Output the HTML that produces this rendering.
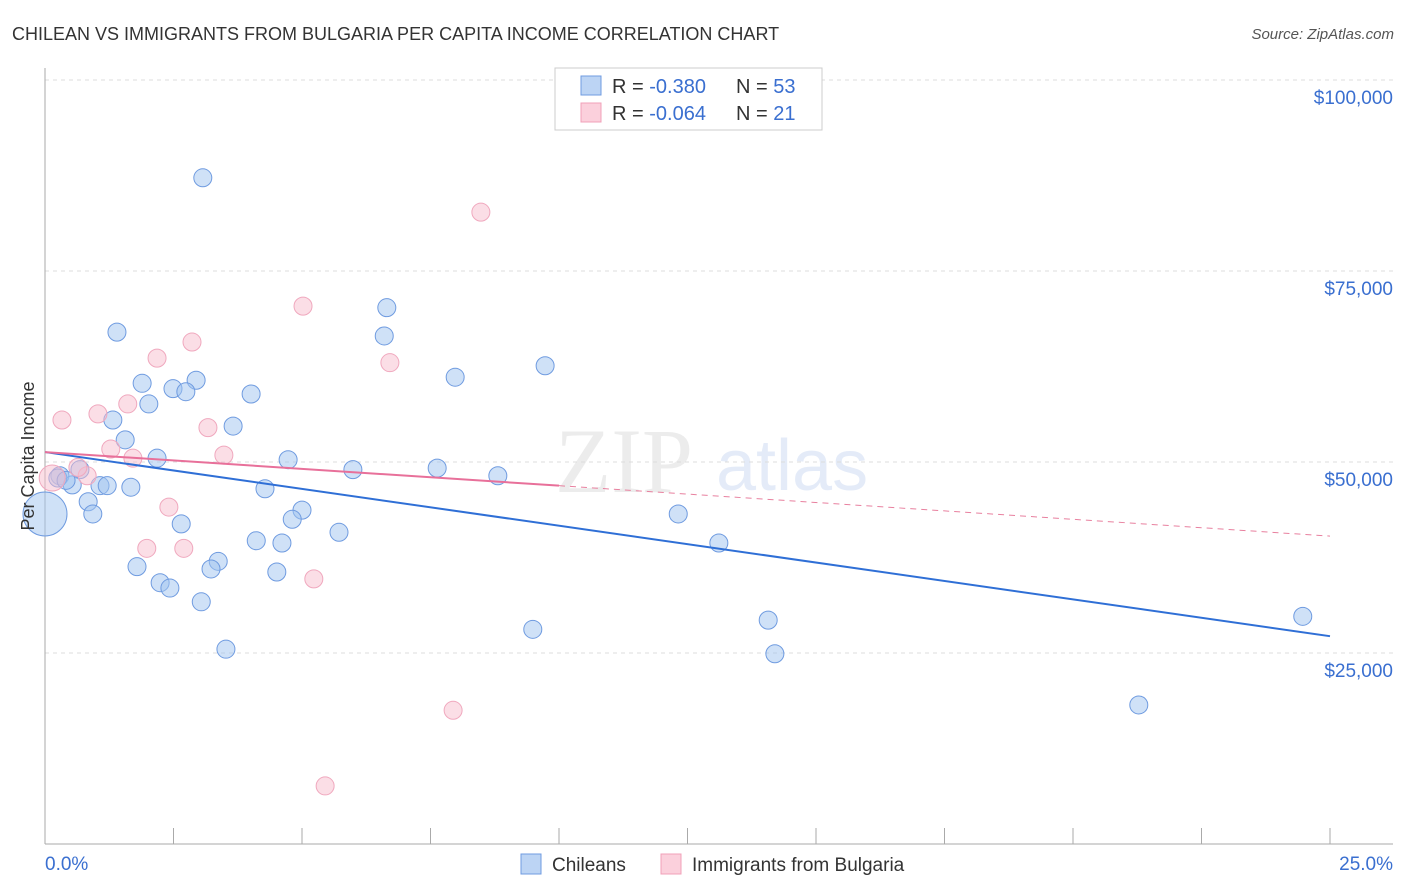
<!DOCTYPE html>
<html><head><meta charset="utf-8"><style>
body{margin:0;background:#fff;font-family:"Liberation Sans",sans-serif;}
svg{display:block}
</style></head><body>
<svg id="chart" width="1406" height="892">
<text x="12" y="40" font-size="18" fill="#333">CHILEAN VS IMMIGRANTS FROM BULGARIA PER CAPITA INCOME CORRELATION CHART</text>
<text x="1394" y="39" font-size="15" fill="#555" font-style="italic" text-anchor="end">Source: ZipAtlas.com</text>
<g opacity="0.13"><text x="555" y="492" font-size="92" font-family="Liberation Serif" fill="#777">ZIP</text><text x="716" y="490" font-size="72" fill="#3a6fd0">atlas</text></g>
<g id="grid"></g><g id="axes"></g><g id="points"></g><g id="trends"></g>
<text transform="translate(34,456) rotate(-90)" font-size="18" fill="#333" text-anchor="middle">Per Capita Income</text>
<g>
<rect x="555" y="68" width="267" height="62" fill="#fff" stroke="#ccc"/>
<rect x="581" y="76" width="20" height="19" fill="#bcd4f4" stroke="#6f9be0"/>
<rect x="581" y="103" width="20" height="19" fill="#fbd0dc" stroke="#f0a0b8"/>
<text x="612" y="93" font-size="20" fill="#333">R = <tspan fill="#3a6fd0">-0.380</tspan><tspan x="736">N = </tspan><tspan fill="#3a6fd0">53</tspan></text>
<text x="612" y="120" font-size="20" fill="#333">R = <tspan fill="#3a6fd0">-0.064</tspan><tspan x="736">N = </tspan><tspan fill="#3a6fd0"> 21</tspan></text>
</g>
<g>
<rect x="521" y="854" width="20" height="20" fill="#bcd4f4" stroke="#6f9be0"/>
<text x="552" y="871" font-size="19" fill="#333">Chileans</text>
<rect x="661" y="854" width="20" height="20" fill="#fbd0dc" stroke="#f0a0b8"/>
<text x="692" y="871" font-size="19" fill="#333">Immigrants from Bulgaria</text>
</g>
</svg>
<script>
const blueX=[3.07,1.40,6.65,6.60,9.73,7.98,1.89,2.94,2.49,2.74,4.01,2.02,1.32,3.66,1.56,2.18,4.73,7.63,5.99,8.81,0.68,0.29,0.53,1.07,1.21,1.67,4.28,0.84,0.93,5.00,4.81,2.65,12.32,5.72,4.11,4.61,13.11,3.37,1.79,3.23,4.51,2.24,2.43,3.04,9.49,14.07,24.47,3.52,14.20,21.28,0.0,0.25,0.41];
const blueY=[87.2,67.0,70.2,66.5,62.6,61.1,60.3,60.7,59.6,59.2,58.9,57.6,55.5,54.7,52.9,50.5,50.3,49.2,49.0,48.2,49.0,48.2,47.0,46.9,46.9,46.7,46.5,44.8,43.2,43.7,42.5,41.9,43.2,40.8,39.7,39.4,39.4,37.0,36.3,36.0,35.6,34.2,33.5,31.7,28.1,29.3,29.8,25.5,24.9,18.2,43.2,47.9,47.6];
const pinkX=[8.48,5.02,2.86,2.18,6.71,0.33,1.03,1.61,3.17,1.28,3.48,1.71,0.82,0.64,0.14,2.41,1.98,2.70,5.23,7.94,5.45];
const pinkY=[82.7,70.4,65.7,63.6,63.0,55.5,56.3,57.6,54.5,51.7,50.9,50.5,48.2,49.3,47.9,44.1,38.7,38.7,34.7,17.5,7.6];
const yTicks=[25,50,75,100];
const yTickLabels=["$25,000","$50,000","$75,000","$100,000"];
const xTickLabels=["0.0%","25.0%"];
const blueTrend=[51.3,27.2];
const pinkTrend=[51.3,40.3];
const pinkSolidEnd=10;
const NS="http://www.w3.org/2000/svg";
const X=v=>45+v/25*1285;
const Y=v=>844-v/100*764;
function mk(t,a,p){const e=document.createElementNS(NS,t);for(const k in a)e.setAttribute(k,a[k]);document.getElementById(p).appendChild(e);return e;}
yTicks.forEach((t,i)=>{
 const g=mk('line',{x1:45,x2:1393,y1:Y(t),y2:Y(t),stroke:'#ddd','stroke-dasharray':'4,4'},'grid');
 
 
 const l=mk('text',{x:1393,y:Y(t)+24,'font-size':19,fill:'#3a6fd0','text-anchor':'end'},'axes');
 l.textContent=yTickLabels[i];
 
 
});
mk('line',{x1:45,x2:45,y1:68,y2:844,stroke:'#aaa'},'axes');
mk('line',{x1:45,x2:1393,y1:844,y2:844,stroke:'#aaa'},'axes');
for(let i=1;i<=10;i++){const t=mk('line',{x1:X(i*2.5),x2:X(i*2.5),y1:828,y2:844,stroke:'#aaa'},'axes');
 
 }
[[0,'start',45],[1,'end',1393]].forEach(([i,a,x])=>{const l=mk('text',{x:x,y:870,'font-size':19,fill:'#3a6fd0','text-anchor':a},'axes');l.textContent=xTickLabels[i];
 
 });
blueX.forEach((x,i)=>{const r=(x===0)?22:9;const c=mk('circle',{cx:X(x),cy:Y(blueY[i]),r:r,fill:'rgba(160,196,240,0.5)',stroke:'#6f9be0','stroke-width':1},'points');
 
 });
pinkX.forEach((x,i)=>{const r=(i===14)?13:9;const c=mk('circle',{cx:X(x),cy:Y(pinkY[i]),r:r,fill:'rgba(248,190,205,0.5)',stroke:'#f0a8be','stroke-width':1},'points');
 
 });
const bt=mk('line',{x1:X(0),y1:Y(blueTrend[0]),x2:X(25),y2:Y(blueTrend[1]),stroke:'#2f6fd6','stroke-width':2},'trends');


const py=v=>pinkTrend[0]+(pinkTrend[1]-pinkTrend[0])*v/25;
const pd=mk('line',{x1:X(pinkSolidEnd),y1:Y(py(pinkSolidEnd)),x2:X(25),y2:Y(pinkTrend[1]),stroke:'#e8809f','stroke-width':1,'stroke-dasharray':'6,5'},'trends');


const ps=mk('line',{x1:X(0),y1:Y(pinkTrend[0]),x2:X(pinkSolidEnd),y2:Y(py(pinkSolidEnd)),stroke:'#e8709a','stroke-width':2},'trends');


</script>
</body></html>
